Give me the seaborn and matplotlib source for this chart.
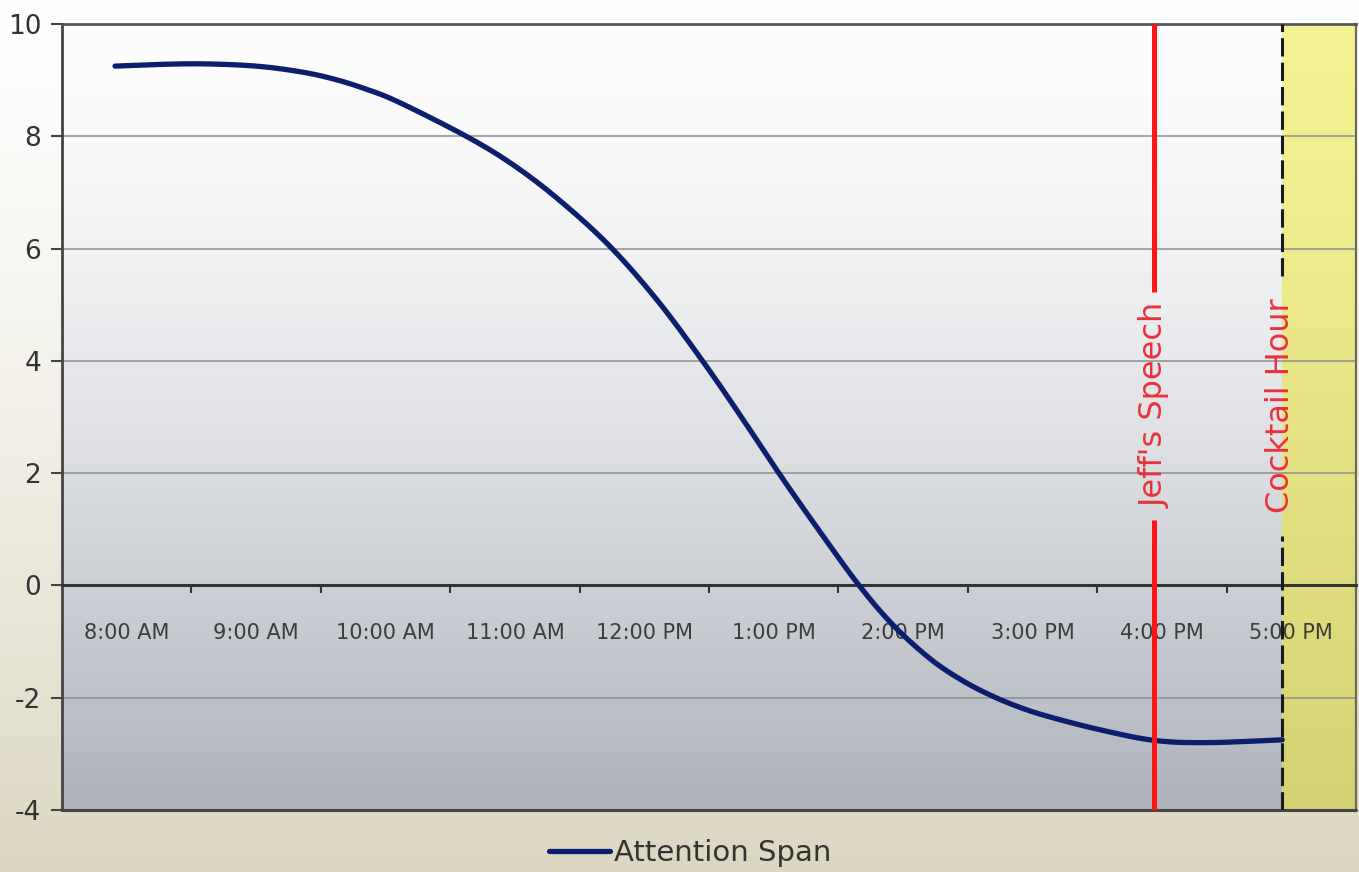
import numpy as np
import matplotlib
matplotlib.use("Agg")
import matplotlib.pyplot as plt
import seaborn as sns
from matplotlib.colors import to_rgb

# Attention over the working day (hours as decimal clock time)
hours = [7.91, 8.25, 8.6, 9.0, 9.34, 9.6, 9.85, 10.11, 10.64, 11.0, 11.35,
         11.73, 12.1, 12.45, 12.75, 13.04, 13.35, 13.66, 13.92, 14.2, 14.44,
         14.67, 14.9, 15.13, 15.52, 15.94, 16.35, 16.93]
attention = [9.25, 9.28, 9.29, 9.25, 9.15, 9.02, 8.84, 8.6, 7.98, 7.47, 6.85,
             6.05, 5.08, 4.0, 3.0, 2.0, 0.98, 0.0, -0.70, -1.29, -1.67,
             -1.95, -2.17, -2.34, -2.57, -2.76, -2.8, -2.75]
series_name = "Attention Span"

# Category labels along the time axis
label_hours = [8, 9, 10, 11, 12, 13, 14, 15, 16, 17]
tick_labels = ["8:00 AM", "9:00 AM", "10:00 AM", "11:00 AM", "12:00 PM",
               "1:00 PM", "2:00 PM", "3:00 PM", "4:00 PM", "5:00 PM"]

# Events of the afternoon
speech_time = 15.94
speech_label = "Jeff's Speech"
cocktail_time = 16.93
cocktail_label = "Cocktail Hour"

y_ticks = [-4, -2, 0, 2, 4, 6, 8, 10]

sns.set_theme(style="white")
plt.rcParams["font.family"] = ["DejaVu Sans"]
plt.rcParams["axes.unicode_minus"] = False

W, H, DPI = 1359, 872, 100
fig = plt.figure(figsize=(W / DPI, H / DPI), dpi=DPI)


def vertical_gradient(top, bottom, n=256, power=1.0):
    t = np.linspace(0, 1, n) ** power
    a, b = np.array(to_rgb(top)), np.array(to_rgb(bottom))
    return (a[None, :] + (b - a)[None, :] * t[:, None])[:, None, :]


def smoothed(x, y, steps=24):
    """Smoothed-line rendering: cubic Bezier through every point with
    Catmull-Rom style control points."""
    p = np.column_stack([x, y]).astype(float)
    n = len(p)
    out = [p[0]]
    t = np.linspace(0, 1, steps + 1)[1:, None]
    for i in range(n - 1):
        p0 = p[max(i - 1, 0)]
        p1, p2 = p[i], p[i + 1]
        p3 = p[min(i + 2, n - 1)]
        c1 = p1 + (p2 - p0) / 6.0
        c2 = p2 - (p3 - p1) / 6.0
        seg = ((1 - t) ** 3) * p1 + 3 * ((1 - t) ** 2) * t * c1 \
            + 3 * (1 - t) * t ** 2 * c2 + t ** 3 * p2
        out.extend(seg)
    out = np.array(out)
    return out[:, 0], out[:, 1]


# Figure background: white fading to a warm beige at the bottom
bg = fig.add_axes([0, 0, 1, 1], zorder=-10)
bg.imshow(vertical_gradient("#ffffff", "#dcd7c1", power=1.3),
          aspect="auto", extent=[0, 1, 0, 1])
bg.axis("off")

x0, x1 = 7.5, 17.5
ax = fig.add_axes([62 / W, 1 - 810 / H, (1356 - 62) / W, (810 - 24) / H])
ax.patch.set_alpha(0)

# Plot-area background gradient
ax.imshow(vertical_gradient("#fdfdfd", "#adb2bb", power=1.5),
          aspect="auto", extent=[x0, x1, -4, 10], zorder=0)
# Cocktail hour shading
ax.imshow(vertical_gradient("#f5f294", "#d5d274", power=1.2),
          aspect="auto", extent=[cocktail_time, x1, -4, 10], zorder=0.2)

sx, sy = smoothed(hours, attention)
sns.lineplot(x=sx, y=sy, ax=ax, color="#0c1e6c", lw=3.8,
             label=series_name, zorder=5, sort=False, estimator=None)

ax.set_xlim(x0, x1)
ax.set_ylim(-4, 10)
ax.set_yticks(y_ticks)
ax.grid(axis="y", color="#8e8e8e", lw=1.1)
ax.grid(axis="x", visible=False)

ax.tick_params(axis="y", length=8, width=1.5, color="#444444", pad=7,
               labelsize=19, labelcolor="#333333", left=True)

# Boundary ticks between hours, labels centred on the hours
ax.set_xticks(np.arange(x0 + 1, x1, 1.0))
ax.set_xticklabels([])
ax.set_xticks(label_hours, minor=True)
ax.set_xticklabels(tick_labels, minor=True)
ax.tick_params(axis="x", which="major", length=6, width=1.5,
               color="#333333", direction="out", bottom=True)
ax.tick_params(axis="x", which="minor", length=0, pad=27,
               labelsize=15, labelcolor="#3c3c3c", bottom=True)

ax.spines["bottom"].set_position(("data", 0))
ax.spines["bottom"].set_color("#333333")
ax.spines["bottom"].set_linewidth(2.2)
ax.spines["bottom"].set_zorder(4)
ax.spines["left"].set_color("#444444")
ax.spines["left"].set_linewidth(2)
ax.spines["top"].set_color("#555555")
ax.spines["top"].set_linewidth(2)
ax.spines["right"].set_color("#6b6a55")
ax.spines["right"].set_linewidth(1.6)
ax.axhline(-4, color="#444444", lw=2.2, clip_on=False, zorder=6)

# Event labels, with their vertical lines broken around the text
text_y = 3.2
speech_txt = ax.text(speech_time + 0.01, text_y, speech_label, rotation=90,
                     ha="center", va="center", color="#e8323c",
                     fontsize=23, zorder=7)
cocktail_txt = ax.text(cocktail_time - 0.015, text_y, cocktail_label,
                       rotation=90, ha="center", va="center",
                       color="#e8323c", fontsize=23, zorder=7)

fig.canvas.draw()
inv = ax.transData.inverted()


def gap_of(txt, pad):
    bb = txt.get_window_extent()
    lo = inv.transform((0, bb.y0))[1] - pad
    hi = inv.transform((0, bb.y1))[1] + pad
    return lo, hi


lo, hi = gap_of(speech_txt, 0.2)
ax.vlines(speech_time, -4, lo, color="#ff1414", lw=3.6, zorder=6)
ax.vlines(speech_time, hi, 10, color="#ff1414", lw=3.6, zorder=6)

lo, hi = gap_of(cocktail_txt, 0.4)
ax.vlines(cocktail_time, -4, lo, color="#1a1a1a", lw=2.2,
          linestyles=(0, (6, 2)), zorder=6)
ax.vlines(cocktail_time, hi, 10, color="#1a1a1a", lw=2.2,
          linestyles=(0, (6, 2)), zorder=6)

ax.legend(loc="center", bbox_to_anchor=(0.508, 1 - 853 / H),
          bbox_transform=fig.transFigure, frameon=False, fontsize=21,
          handlelength=2.1, handletextpad=0.15, labelcolor="#333333")

fig.savefig("out.png", dpi=DPI)
